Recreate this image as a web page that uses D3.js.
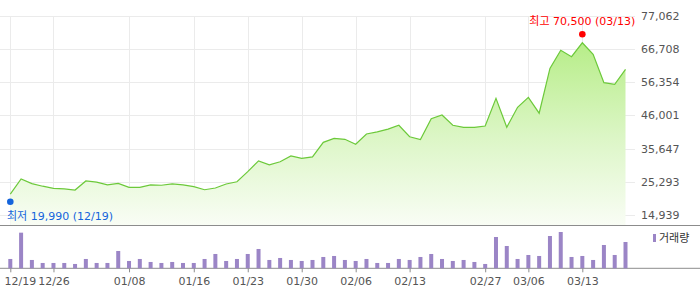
<!DOCTYPE html>
<html><head><meta charset="utf-8">
<script src="https://cdn.jsdelivr.net/npm/d3@7"></script>
<style>
html,body{margin:0;padding:0;background:#fff;}
svg{display:block;font-family:"DejaVu Sans","Noto Sans CJK KR",sans-serif;}
</style></head>
<body><svg id="c" width="700" height="289"></svg>
<script>
const dates = ["12/19","12/20","12/21","12/22","12/26","12/27","12/28","01/02","01/03","01/04","01/05","01/08","01/09","01/10","01/11","01/12","01/15","01/16","01/17","01/18","01/19","01/22","01/23","01/24","01/25","01/26","01/29","01/30","01/31","02/01","02/02","02/05","02/06","02/07","02/08","02/09","02/12","02/13","02/14","02/15","02/16","02/19","02/20","02/21","02/27","02/29","03/04","03/05","03/06","03/07","03/08","03/11","03/12","03/13","03/14","03/15","03/18","03/19"];
const closes = [21400,26150,24700,23900,23250,23050,22700,25550,25200,24300,24800,23550,23550,24300,24200,24600,24300,23750,22800,23350,24600,25300,28450,31800,30600,31550,33350,32600,33050,37600,38850,38550,37000,40200,40850,41750,42950,39350,38450,45000,46150,42950,42300,42300,42700,51350,42300,48550,51650,46700,60700,66350,64350,68700,65100,56250,55750,60400];
const volumes = [280000,1070000,250000,160000,160000,160000,130000,280000,160000,160000,520000,220000,280000,190000,160000,190000,160000,160000,280000,430000,220000,280000,430000,580000,250000,310000,250000,220000,250000,340000,370000,250000,220000,280000,160000,160000,280000,250000,340000,430000,280000,220000,250000,190000,130000,940000,670000,280000,400000,370000,970000,1090000,340000,370000,250000,700000,400000,790000];
const xTickLabels = ["12/19","12/26","01/08","01/16","01/23","01/30","02/06","02/13","02/27","03/06","03/13"];
const yTickValues = [14939,25293,35647,46001,56354,66708,77062];
const highValue = 70500, highDate = "03/13";
const lowValue = 19990, lowDate = "12/19";

const svg = d3.select("#c");
const x = d3.scalePoint().domain(dates).range([10.3, 625.5]);
const y = d3.scaleLinear().domain([14939, 77062]).range([214.9, 16]);
const yv = d3.scaleLinear().domain([0, d3.max(volumes)]).range([268.3, 232]);
const priceBottom = 225, volBottom = 268.3;

// gradient
const defs = svg.append("defs");
const g = defs.append("linearGradient").attr("id","ag").attr("gradientUnits","userSpaceOnUse")
  .attr("x1",0).attr("x2",0).attr("y1",30).attr("y2",priceBottom);
g.append("stop").attr("offset","0%").attr("stop-color","#b2ec80");
g.append("stop").attr("offset","55%").attr("stop-color","#dcf6c6");
g.append("stop").attr("offset","100%").attr("stop-color","#f9fdf5");

// horizontal grid
svg.append("g").selectAll("line").data(yTickValues).join("line")
  .attr("x1",0).attr("x2",635).attr("y1",d=>Math.round(y(d))+0.5).attr("y2",d=>Math.round(y(d))+0.5)
  .attr("stroke","#ebebeb").attr("stroke-width",1);
// vertical grid
svg.append("g").selectAll("line").data(xTickLabels).join("line")
  .attr("x1",d=>Math.round(x(d))+0.5).attr("x2",d=>Math.round(x(d))+0.5)
  .attr("y1",16).attr("y2",priceBottom)
  .attr("stroke","#ebebeb").attr("stroke-width",1);

// area + line
const pts = dates.map((d,i)=>({d, v:closes[i]}));
svg.append("path").datum(pts)
  .attr("d", d3.area().x(p=>x(p.d)).y0(priceBottom).y1(p=>y(p.v)))
  .attr("fill","url(#ag)");
svg.append("path").datum(pts)
  .attr("d", d3.line().x(p=>x(p.d)).y(p=>y(p.v)))
  .attr("fill","none").attr("stroke","#6cc93a").attr("stroke-width",1.2);

// panel lines
svg.append("line").attr("x1",0).attr("x2",700).attr("y1",priceBottom+0.5).attr("y2",priceBottom+0.5).attr("stroke","#8c8c8c");
svg.append("line").attr("x1",0).attr("x2",700).attr("y1",volBottom).attr("y2",volBottom).attr("stroke","#8c8c8c");

// y axis labels
const yAxis = d3.axisRight(y).tickValues(yTickValues).tickSize(0).tickPadding(0).tickFormat(d3.format(","));
const ya = svg.append("g").attr("transform","translate(641,0)").call(yAxis);
ya.select(".domain").remove();
ya.selectAll("text").attr("fill","#555").attr("font-size","11px").attr("font-family","DejaVu Sans");

// volume bars
svg.append("g").selectAll("rect").data(volumes).join("rect")
  .attr("x",(v,i)=>x(dates[i])-2).attr("width",4)
  .attr("y",v=>yv(v)).attr("height",v=>volBottom-yv(v))
  .attr("fill","#9b85c6");

// x axis
const xAxis = d3.axisBottom(x).tickValues(xTickLabels).tickSize(4).tickPadding(5);
const xa = svg.append("g").attr("transform",`translate(0,${volBottom})`).call(xAxis);
xa.select(".domain").remove();
xa.selectAll("line").attr("stroke","#8c8c8c");
xa.selectAll("text").attr("fill","#555").attr("font-size","11px").attr("font-family","DejaVu Sans");
// keep first label inside the left edge
xa.selectAll(".tick").filter(d=>d===xTickLabels[0]).select("text")
  .attr("text-anchor","start").attr("x",4 - x(xTickLabels[0]));

// legend
svg.append("rect").attr("x",653).attr("y",234).attr("width",3).attr("height",8).attr("fill","#9b85c6");
svg.append("text").attr("x",659).attr("y",242).attr("font-size","11px").attr("fill","#333")
  .attr("font-family","Noto Sans CJK KR").text("거래량");

// high / low markers
const fmt = d3.format(",");
svg.append("circle").attr("cx",x(highDate)).attr("cy",y(highValue)-2.7).attr("r",3.3).attr("fill","#f00");
svg.append("text").attr("x",x(highDate)).attr("y",y(highValue)-12).attr("text-anchor","middle")
  .attr("font-size","11px").attr("fill","#f00").text(`최고 ${fmt(highValue)} (${highDate})`);
svg.append("circle").attr("cx",x(lowDate)).attr("cy",y(lowValue)+3).attr("r",3.3).attr("fill","#1464dc");
svg.append("text").attr("x",7).attr("y",y(lowValue)+21).attr("text-anchor","start")
  .attr("font-size","11px").attr("fill","#1464dc").text(`최저 ${fmt(lowValue)} (${lowDate})`);
</script></body></html>
